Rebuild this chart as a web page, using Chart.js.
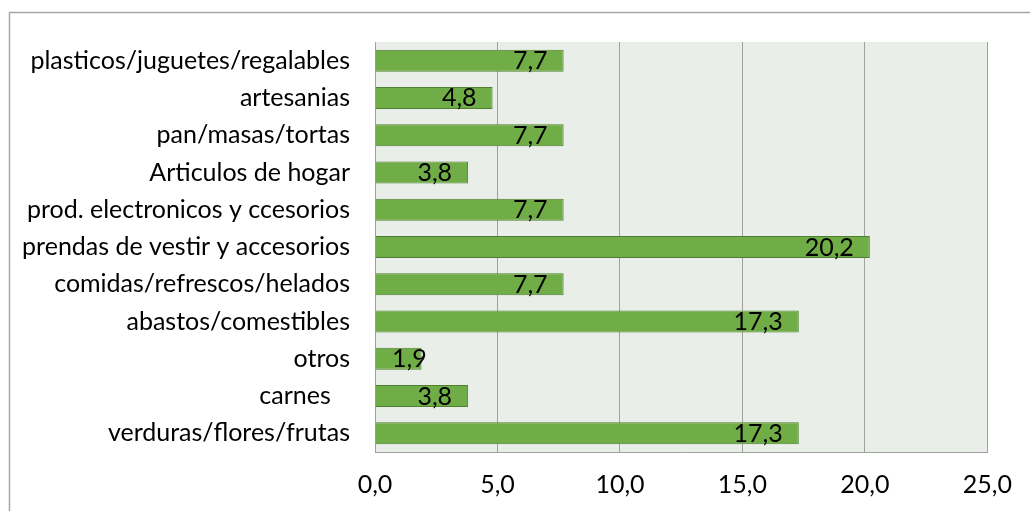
<!DOCTYPE html>
<html>
<head>
<meta charset="utf-8">
<script src="https://cdn.jsdelivr.net/npm/chart.js@4/dist/chart.umd.min.js"></script>
<style>
  html, body { margin: 0; padding: 0; background: #fff; overflow: hidden; }
  #wrap { width: 1030px; height: 511px; position: relative; }
</style>
</head>
<body>
<div id="wrap"><canvas id="chart" width="1030" height="511"></canvas></div>
<script>
// Data (top to bottom)
const categories = [
    'plasticos/juguetes/regalables',
    'artesanias',
    'pan/masas/tortas',
    'Articulos de hogar',
    'prod. electronicos y ccesorios',
    'prendas de vestir y accesorios',
    'comidas/refrescos/helados',
    'abastos/comestibles',
    'otros',
    'carnes   ',
    'verduras/flores/frutas'
];
const values = [7.7, 4.8, 7.7, 3.8, 7.7, 20.2, 7.7, 17.3, 1.9, 3.8, 17.3];
const axisMin = 0;
const axisMax = 25;
const axisStep = 5;

const FONT = 'Lato, "Open Sans", sans-serif';
const FONT_SIZE = 25;

function fmt(v) {
    return v.toFixed(1).replace('.', ',');
}

// Plot background + outer frame
const backdrop = {
    id: 'backdrop',
    beforeDraw(chart) {
        const ctx = chart.ctx;
        const a = chart.chartArea;
        ctx.save();
        ctx.fillStyle = '#fff';
        ctx.fillRect(0, 0, chart.width, chart.height);
        ctx.strokeStyle = '#A6A6A6';
        ctx.lineWidth = 1.5;
        ctx.strokeRect(9.5, 12.5, chart.width + 20, chart.height + 20);
        ctx.fillStyle = '#EAEEE8';
        ctx.fillRect(a.left, a.top, a.right - a.left, a.bottom - a.top);
        ctx.restore();
    }
};

// Value labels at the inner end of each bar
const barLabels = {
    id: 'barLabels',
    afterDatasetsDraw(chart) {
        const ctx = chart.ctx;
        const left = chart.chartArea.left;
        const meta = chart.getDatasetMeta(0);
        ctx.save();
        ctx.font = FONT_SIZE + 'px ' + FONT;
        ctx.fillStyle = '#000';
        ctx.textAlign = 'right';
        ctx.textBaseline = 'alphabetic';
        meta.data.forEach(function(bar, i) {
            const txt = fmt(values[i]);
            const w = ctx.measureText(txt).width;
            const x = Math.max(bar.x - 16, left + 17 + w);
            ctx.fillText(txt, x, bar.y + 8.5);
        });
        ctx.restore();
    }
};

new Chart(document.getElementById('chart'), {
    type: 'bar',
    data: {
        labels: categories,
        datasets: [{
            data: values,
            backgroundColor: '#70AD47',
            borderColor: '#4F7F30',
            borderWidth: 1,
            barPercentage: 0.59,
            categoryPercentage: 1.0
        }]
    },
    options: {
        indexAxis: 'y',
        responsive: false,
        animation: false,
        layout: { padding: { left: 0, top: 42, right: 42, bottom: 0 } },
        plugins: {
            legend: { display: false },
            tooltip: { enabled: false }
        },
        scales: {
            x: {
                min: axisMin,
                max: axisMax,
                ticks: {
                    stepSize: axisStep,
                    padding: 18,
                    color: '#000',
                    font: { family: FONT, size: FONT_SIZE },
                    callback: function(v) { return fmt(v); }
                },
                grid: { color: '#A0A0A0', lineWidth: 1, drawTicks: false },
                border: { display: true, color: '#A0A0A0', width: 1 },
                afterFit: function(scale) { scale.height = 59; }
            },
            y: {
                ticks: {
                    padding: 25,
                    color: '#000',
                    autoSkip: false,
                    font: { family: FONT, size: FONT_SIZE }
                },
                grid: { display: false, drawTicks: false },
                border: { display: true, color: '#A0A0A0', width: 1 },
                afterFit: function(scale) { scale.width = 375; }
            }
        }
    },
    plugins: [backdrop, barLabels]
});
</script>
</body>
</html>
